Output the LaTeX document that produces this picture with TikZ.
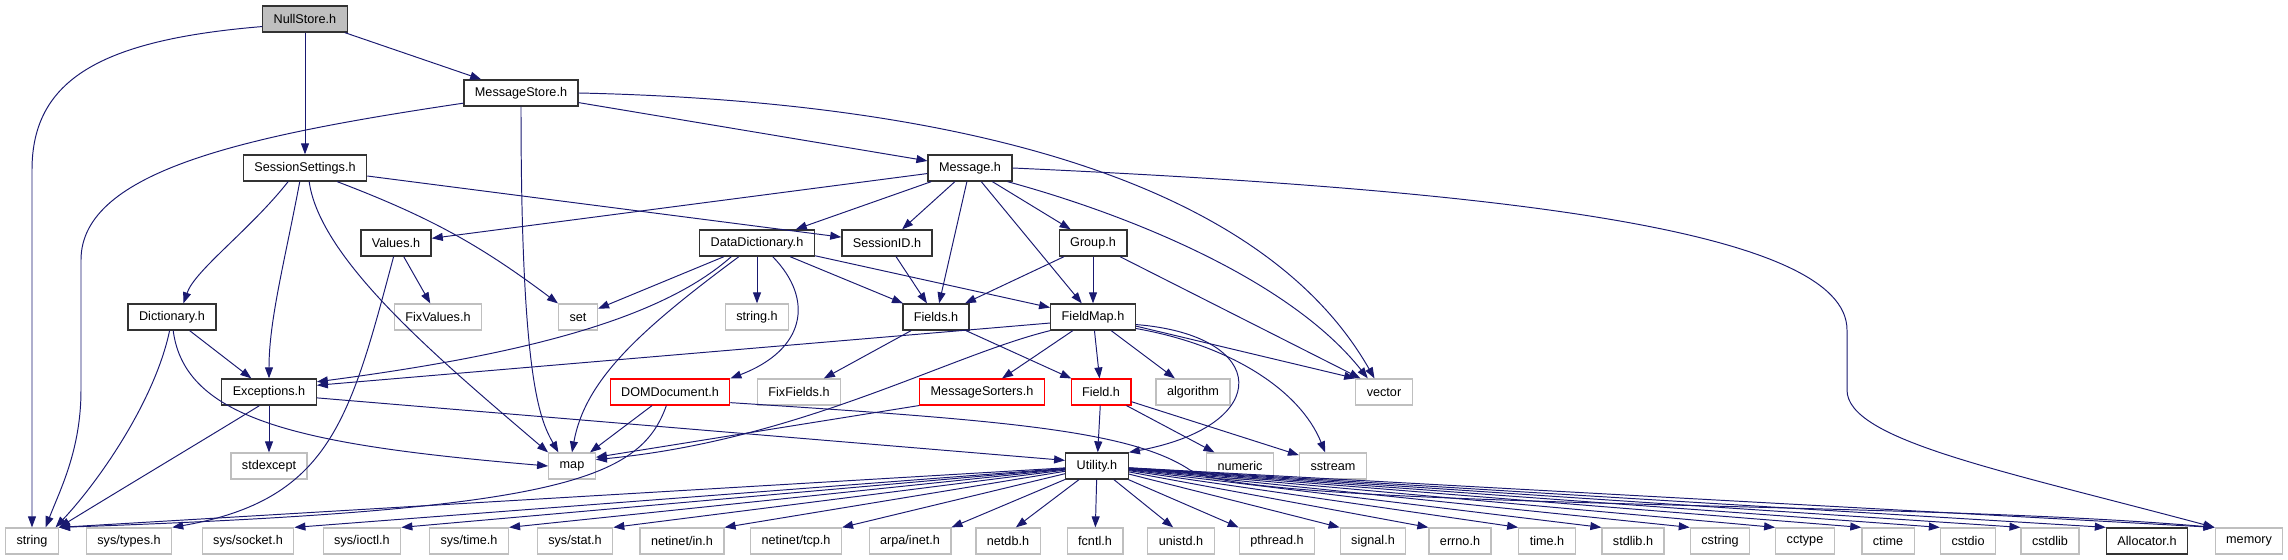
\documentclass[tikz,border=0pt]{standalone}
\usepackage{fontspec}
\setmainfont{Liberation Sans}
\usetikzlibrary{arrows.meta}

\definecolor{edgeblue}{HTML}{191970}
\definecolor{boxgray}{HTML}{BFBFBF}

\begin{document}
\begin{tikzpicture}[
  x=0.02cm, y=-0.02cm,
  every node/.style={font=\fontsize{7.2}{8.5}\selectfont},
  hdr/.style={rectangle,draw=black!80,line width=0.75pt,fill=white,
    inner xsep=0.22cm,inner ysep=0pt,minimum height=0.52cm},
  ext/.style={hdr,draw=boxgray,line width=0.7pt},
  trunc/.style={hdr,draw=red,line width=0.6pt},
  focus/.style={hdr,fill=boxgray},
  dep/.style={-{Triangle[length=2.2mm,width=1.6mm]},draw=edgeblue,line width=0.55pt}
]
\useasboundingbox (0,0) rectangle (2288,560);

% headers of the project
\node[focus] (NullStore) at (305,19) {NullStore.h};
\node[hdr] (MessageStore) at (521,93) {MessageStore.h};
\node[hdr] (SessionSettings) at (305,168) {SessionSettings.h};
\node[hdr] (Message) at (970,168) {Message.h};
\node[hdr] (Values) at (396,243) {Values.h};
\node[hdr] (DataDictionary) at (757,243) {DataDictionary.h};
\node[hdr] (SessionID) at (887,243) {SessionID.h};
\node[hdr] (Group) at (1093,243) {Group.h};
\node[hdr] (Dictionary) at (172,317) {Dictionary.h};
\node[ext] (FixValues) at (438,317) {FixValues.h};
\node[ext] (set) at (578,317) {set};
\node[ext] (stringh) at (757,317) {string.h};
\node[hdr] (Fields) at (936,317) {Fields.h};
\node[hdr] (FieldMap) at (1093,317) {FieldMap.h};
\node[hdr] (Exceptions) at (269,392) {Exceptions.h};
\node[trunc] (DOMDocument) at (670,392) {DOMDocument.h};
\node[ext] (FixFields) at (799,392) {FixFields.h};
\node[trunc] (MessageSorters) at (982,392) {MessageSorters.h};
\node[trunc] (Field) at (1101,392) {Field.h};
\node[ext] (algorithm) at (1193,392) {algorithm};
\node[ext] (vector) at (1384,392) {vector};
\node[ext] (stdexcept) at (269,466) {stdexcept};
\node[ext] (map) at (572,466) {map};
\node[hdr] (Utility) at (1097,466) {Utility.h};
\node[ext] (numeric) at (1240,466) {numeric};
\node[ext] (sstream) at (1333,466) {sstream};

% bottom row: system headers
\node[ext] (string) at (32,541) {string};
\node[ext] (systypes) at (129,541) {sys/types.h};
\node[ext] (syssocket) at (248,541) {sys/socket.h};
\node[ext] (sysioctl) at (362,541) {sys/ioctl.h};
\node[ext] (systime) at (469,541) {sys/time.h};
\node[ext] (sysstat) at (575,541) {sys/stat.h};
\node[ext] (netinetin) at (682,541) {netinet/in.h};
\node[ext] (netinettcp) at (796,541) {netinet/tcp.h};
\node[ext] (arpainet) at (910,541) {arpa/inet.h};
\node[ext] (netdb) at (1008,541) {netdb.h};
\node[ext] (fcntl) at (1095,541) {fcntl.h};
\node[ext] (unistd) at (1181,541) {unistd.h};
\node[ext] (pthread) at (1277,541) {pthread.h};
\node[ext] (signal) at (1373,541) {signal.h};
\node[ext] (errno) at (1460,541) {errno.h};
\node[ext] (timeh) at (1547,541) {time.h};
\node[ext] (stdlibh) at (1633,541) {stdlib.h};
\node[ext] (cstring) at (1720,541) {cstring};
\node[ext] (cctype) at (1805,541) {cctype};
\node[ext] (ctime) at (1888,541) {ctime};
\node[ext] (cstdio) at (1968,541) {cstdio};
\node[ext] (cstdlib) at (2050,541) {cstdlib};
\node[hdr] (Allocator) at (2147,541) {Allocator.h};
\node[ext] (memory) at (2249,541) {memory};

% NullStore.h and MessageStore.h
\draw[dep] (NullStore.190) .. controls (100,40) and (32,80) .. (32,170) -- (string.north);
\draw[dep] (NullStore) -- (MessageStore);
\draw[dep] (NullStore) -- (SessionSettings);
\draw[dep] (MessageStore.190) .. controls (250,135) and (81,170) .. (81,260) -- (81,390)
  .. controls (81,450) and (60,490) .. (string.45);
\draw[dep] (MessageStore.south) .. controls (521,380) and (540,420) .. (map.135);
\draw[dep] (MessageStore) -- (Message);
\draw[dep] (MessageStore.east) .. controls (900,100) and (1250,160) .. (vector.125);

% SessionSettings.h
\draw[dep] (SessionSettings.219) .. controls (250,230) and (195,270) .. (Dictionary.50);
\draw[dep] (SessionSettings.249) .. controls (285,260) and (269,320) .. (Exceptions.north);
\draw[dep] (SessionSettings.287) .. controls (320,260) and (440,360) .. (map.north west);
\draw[dep] (SessionSettings.337) to[bend left=8] (set.north west);
\draw[dep] (SessionSettings) -- (SessionID);

% Message.h
\draw[dep] (Message) -- (Values);
\draw[dep] (Message) -- (DataDictionary);
\draw[dep] (Message) -- (SessionID);
\draw[dep] (Message) -- (Fields);
\draw[dep] (Message) -- (FieldMap);
\draw[dep] (Message) -- (Group);
\draw[dep] (Message.-20) .. controls (1130,215) and (1290,280) .. (vector.140);
\draw[dep] (Message.east) .. controls (1500,190) and (1847,230) .. (1847,330) -- (1847,390)
  .. controls (1847,440) and (2000,470) .. (memory.north west);

% Values.h, DataDictionary.h, SessionID.h, Group.h
\draw[dep] (Values) -- (FixValues);
\draw[dep] (Values.260) .. controls (350,420) and (330,500) .. (systypes.north east);
\draw[dep] (DataDictionary) -- (set);
\draw[dep] (DataDictionary.208) .. controls (660,320) and (520,355) .. (Exceptions.12);
\draw[dep] (DataDictionary.217) .. controls (640,330) and (585,380) .. (map.north);
\draw[dep] (DataDictionary) -- (stringh);
\draw[dep] (DataDictionary.-41) .. controls (815,300) and (805,350) .. (DOMDocument.north east);
\draw[dep] (DataDictionary) -- (Fields);
\draw[dep] (DataDictionary) -- (FieldMap);
\draw[dep] (SessionID) -- (Fields);
\draw[dep] (Group) -- (Fields);
\draw[dep] (Group) -- (FieldMap);
\draw[dep] (Group) -- (vector.150);

% Fields.h and FieldMap.h
\draw[dep] (Fields) -- (FixFields);
\draw[dep] (Fields) -- (Field);
\draw[dep] (FieldMap.188) -- (Exceptions.8);
\draw[dep] (FieldMap.south west) .. controls (950,355) and (800,440) .. (map.15);
\draw[dep] (FieldMap) -- (MessageSorters);
\draw[dep] (FieldMap) -- (Field);
\draw[dep] (FieldMap) -- (algorithm);
\draw[dep] (FieldMap.-10) .. controls (1270,335) and (1275,425) .. (Utility.north east);
\draw[dep] (FieldMap.-12) -- (vector.north west);
\draw[dep] (FieldMap.-15) .. controls (1230,345) and (1300,390) .. (sstream.120);

% Dictionary.h and Exceptions.h
\draw[dep] (Dictionary) -- (Exceptions);
\draw[dep] (Dictionary.260) .. controls (155,400) and (100,480) .. (string.30);
\draw[dep] (Dictionary.275) .. controls (185,420) and (300,445) .. (map.west);
\draw[dep] (Exceptions) -- (stdexcept);
\draw[dep] (Exceptions.235) .. controls (220,430) and (120,490) .. (string.north east);
\draw[dep] (Exceptions.-7) -- (Utility.170);

% DOMDocument.h, MessageSorters.h, Field.h
\draw[dep] (DOMDocument) -- (map);
\draw[dep] (DOMDocument.255) .. controls (640,480) and (560,510) .. (string.north east);
\draw[dep] (DOMDocument.-10) .. controls (1000,420) and (1130,430) .. (1190,470)
  .. controls (1260,510) and (1900,500) .. (memory.north west);
\draw[dep] (MessageSorters.south west) -- (map.20);
\draw[dep] (Field) -- (Utility);
\draw[dep] (Field) -- (numeric);
\draw[dep] (Field) -- (sstream);

% Utility.h
\draw[dep] (Utility) -- (string.north east);
\draw[dep] (Utility) -- (syssocket.north east);
\draw[dep] (Utility) -- (sysioctl.north east);
\draw[dep] (Utility) -- (systime.north east);
\draw[dep] (Utility) -- (sysstat.north east);
\draw[dep] (Utility) -- (netinetin.north east);
\draw[dep] (Utility) -- (netinettcp.north east);
\draw[dep] (Utility) -- (arpainet.north east);
\draw[dep] (Utility) -- (netdb.60);
\draw[dep] (Utility) -- (fcntl);
\draw[dep] (Utility) -- (unistd.120);
\draw[dep] (Utility) -- (pthread.north west);
\draw[dep] (Utility) -- (signal.north west);
\draw[dep] (Utility) -- (errno.north west);
\draw[dep] (Utility) -- (timeh.north west);
\draw[dep] (Utility) -- (stdlibh.north west);
\draw[dep] (Utility) -- (cstring.north west);
\draw[dep] (Utility) -- (cctype.north west);
\draw[dep] (Utility) -- (ctime.north west);
\draw[dep] (Utility) -- (cstdio.north west);
\draw[dep] (Utility) -- (cstdlib.north west);
\draw[dep] (Utility) -- (Allocator.north west);
\draw[dep] (Utility) -- (memory.north west);
\end{tikzpicture}
\end{document}
